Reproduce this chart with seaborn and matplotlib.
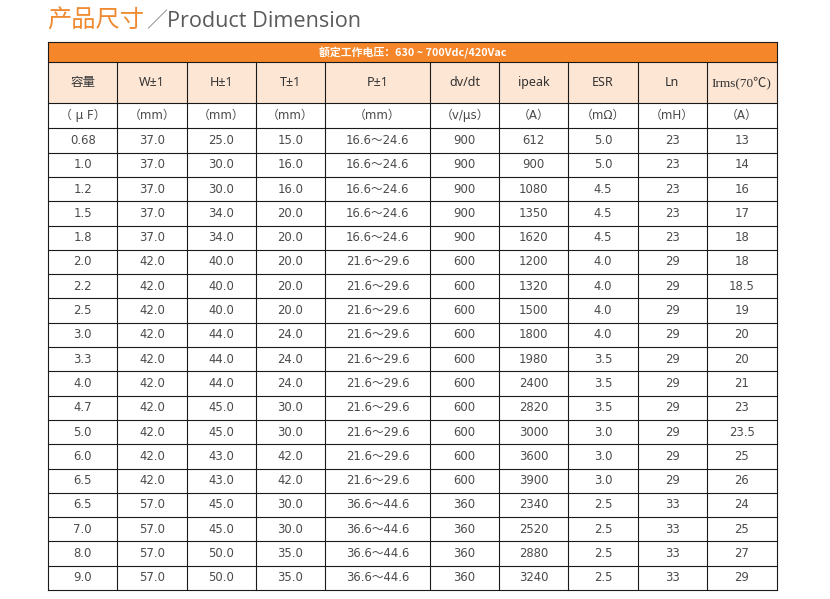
import seaborn as sns
import matplotlib.pyplot as plt
from matplotlib.patches import Rectangle
import pandas as pd

sns.set_theme(style="white")
plt.rcParams['font.family'] = ['DejaVu Sans', 'Noto Sans CJK SC']

# 表格数据
title_cn = "产品尺寸"
title_en = "Product Dimension"
band_text = "额定工作电压：630 ~ 700Vdc/420Vac"

headers = ["容量", "W±1", "H±1", "T±1", "P±1", "dv/dt", "ipeak", "ESR", "Ln", "Irms(70℃)"]
units = ["（ μ F）", "（mm）", "（mm）", "（mm）", "（mm）", "（v/μs）", "（A）", "（mΩ）", "（mH）", "（A）"]

cap = ["0.68", "1.0", "1.2", "1.5", "1.8", "2.0", "2.2", "2.5", "3.0", "3.3",
       "4.0", "4.7", "5.0", "6.0", "6.5", "6.5", "7.0", "8.0", "9.0"]
w = ["37.0", "37.0", "37.0", "37.0", "37.0", "42.0", "42.0", "42.0", "42.0", "42.0",
     "42.0", "42.0", "42.0", "42.0", "42.0", "57.0", "57.0", "57.0", "57.0"]
h = ["25.0", "30.0", "30.0", "34.0", "34.0", "40.0", "40.0", "40.0", "44.0", "44.0",
     "44.0", "45.0", "45.0", "43.0", "43.0", "45.0", "45.0", "50.0", "50.0"]
t = ["15.0", "16.0", "16.0", "20.0", "20.0", "20.0", "20.0", "20.0", "24.0", "24.0",
     "24.0", "30.0", "30.0", "42.0", "42.0", "30.0", "30.0", "35.0", "35.0"]
p = ["16.6～24.6"] * 5 + ["21.6～29.6"] * 10 + ["36.6～44.6"] * 4
dvdt = [900, 900, 900, 900, 900, 600, 600, 600, 600, 600,
        600, 600, 600, 600, 600, 360, 360, 360, 360]
ipeak = [612, 900, 1080, 1350, 1620, 1200, 1320, 1500, 1800, 1980,
         2400, 2820, 3000, 3600, 3900, 2340, 2520, 2880, 3240]
esr = ["5.0", "5.0", "4.5", "4.5", "4.5", "4.0", "4.0", "4.0", "4.0", "3.5",
       "3.5", "3.5", "3.0", "3.0", "3.0", "2.5", "2.5", "2.5", "2.5"]
ln = [23, 23, 23, 23, 23, 29, 29, 29, 29, 29, 29, 29, 29, 29, 29, 33, 33, 33, 33]
irms = ["13", "14", "16", "17", "18", "18", "18.5", "19", "20", "20",
        "21", "23", "23.5", "25", "26", "24", "25", "27", "29"]

df = pd.DataFrame({"cap": cap, "w": w, "h": h, "t": t, "p": p, "dvdt": dvdt,
                   "ipeak": ipeak, "esr": esr, "ln": ln, "irms": irms})

# 版式
col_edges = [48.3, 117.3, 186.5, 255.7, 325.0, 430.0, 499.3, 568.3, 637.7, 706.7, 776.7]
band_top, band_bot = 41.7, 62.3
head_bot = 103.3
unit_bot = 128.3
row_h = 24.3

orange = "#F5862A"
peach = "#FDE6D4"
txt = "#4a4a4a"
line_c = "#1a1a1a"
lw = 0.8

fig = plt.figure(figsize=(8.3, 5.99), dpi=100)
ax = fig.add_axes([0, 0, 1, 1])
ax.set_xlim(0, 830)
ax.set_ylim(599, 0)
ax.axis('off')

left, right = col_edges[0], col_edges[-1]
n = len(df)
bottom = unit_bot + n * row_h

# 背景
ax.add_patch(Rectangle((left, band_top), right - left, band_bot - band_top,
                       facecolor=orange, edgecolor='none'))
ax.add_patch(Rectangle((left, band_bot), right - left, head_bot - band_bot,
                       facecolor=peach, edgecolor='none'))

# 线条
for y in [band_top, band_bot, head_bot] + [unit_bot + i * row_h for i in range(n + 1)]:
    ax.plot([left, right], [y, y], color=line_c, lw=lw, solid_capstyle='projecting')
for i, x in enumerate(col_edges):
    y0 = band_top if i in (0, len(col_edges) - 1) else band_bot
    ax.plot([x, x], [y0, bottom], color=line_c, lw=lw, solid_capstyle='projecting')

# 标题
ax.text(47, 21, title_cn, color="#F08A30", fontsize=17.5, fontweight='medium',
        family=['Noto Sans CJK SC'], va='center', ha='left')
ax.text(146, 21, "／", color="#888888", fontsize=15,
        family=['Noto Sans CJK SC'], va='center', ha='left', fontweight='light')
ax.text(167, 21.5, title_en, color="#5a5a5a", fontsize=15.6,
        family=['Open Sans', 'DejaVu Sans'], va='center', ha='left')

ax.text((left + right) / 2, (band_top + band_bot) / 2 + 0.5, band_text, color='white',
        fontsize=7.8, fontweight='bold', va='center', ha='center',
        family=['Noto Sans CJK SC', 'DejaVu Sans'])

centers = [(col_edges[i] + col_edges[i + 1]) / 2 for i in range(len(col_edges) - 1)]
for j, s in enumerate(headers):
    if j == len(headers) - 1:
        ax.text(centers[j], (band_bot + head_bot) / 2, s, color="#333333", fontsize=9.5,
                va='center', ha='center', family=['Liberation Serif', 'Noto Sans CJK SC'])
    else:
        ax.text(centers[j], (band_bot + head_bot) / 2, s, color="#333333", fontsize=9,
                va='center', ha='center', fontweight='medium',
                family=['Noto Sans', 'Noto Sans CJK SC'])
for j, s in enumerate(units):
    ax.text(centers[j], (head_bot + unit_bot) / 2, s, color=txt, fontsize=8.6,
            va='center', ha='center', family=['DejaVu Sans', 'Noto Sans CJK SC'])

for i, row in enumerate(df.itertuples(index=False)):
    yc = unit_bot + (i + 0.5) * row_h
    for j, v in enumerate(row):
        ax.text(centers[j], yc, str(v), color=txt, fontsize=8.4,
                va='center', ha='center', family=['DejaVu Sans', 'Noto Sans CJK SC'])

fig.savefig("out.png", dpi=100, facecolor='white')
